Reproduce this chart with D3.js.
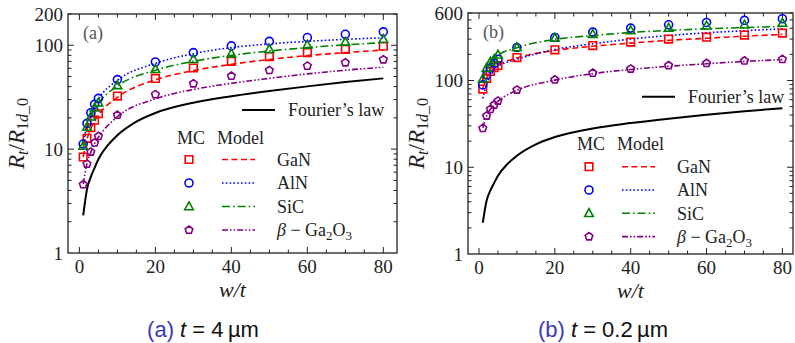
<!DOCTYPE html>
<html><head><meta charset="utf-8">
<script src="https://cdn.jsdelivr.net/npm/d3@7"></script>
<style>body{margin:0;background:#fff}svg{display:block}
.serif{font-family:"Liberation Serif",serif}
.sans{font-family:"Liberation Sans",Arial,sans-serif}
</style>
</head><body>
<svg id="chart" width="795" height="343"></svg>
<script>
// ---------- data ----------
const xVals = [1, 2, 3, 4, 5, 10, 20, 30, 40, 50, 60, 70, 80];
const fourierX = [1, 2, 3, 4, 5, 7.5, 10, 15, 20, 30, 40, 50, 60, 70, 80];
const fourierY = [2.3, 4.1, 5.4, 6.6, 8.0, 10.9, 13.6, 18.4, 22.3, 28, 32.3, 36.3, 40.2, 44.2, 48];

const materials = ["GaN", "AlN", "SiC", "Ga2O3"];

// panel (a) t = 4 um
const ganMcA   = [8.4, 12.7, 16.1, 19.0, 21.9, 32.4, 48, 60.4, 70.1, 77.8, 85, 91.4, 97.8];
const alnMcA   = [11.2, 17.7, 22.4, 27, 30.8, 46.7, 69, 85, 98.6, 109, 118.6, 127.6, 134.6];
const sicMcA   = [10.7, 16.3, 20.5, 25, 28, 41.1, 58.7, 73.3, 83, 91.4, 100.7, 107.7, 114.3];
const gaoMcA   = [4.56, 7.2, 9.4, 11.5, 13.3, 21.3, 33.6, 42.7, 50.6, 57.4, 63.2, 68, 72.7];
const ganModA  = [8.4, 12.5, 15.8, 18.6, 21.3, 31.5, 46.5, 57, 65.5, 73, 79.5, 85, 90];
const alnModA  = [11, 17.5, 22, 26.5, 30.5, 46, 67, 83, 95, 103, 109, 114, 118];
const sicModA  = [10.5, 16, 20.3, 24.5, 27.7, 40.5, 57.5, 70, 80, 88, 95, 101, 106];
const gaoModA  = [4.6, 7.3, 9.3, 11.3, 13, 20.5, 30.5, 37.5, 43, 48, 53, 57.5, 61.5];

// panel (b) t = 0.2 um
const ganMcB   = [79.7, 106, 127, 141, 149, 184, 226, 253, 277, 300, 316, 334, 352];
const alnMcB   = [89, 116, 139, 158, 176, 240, 313, 361, 402, 439, 467, 493, 515];
const sicMcB   = [104, 139, 163, 176, 198, 240, 308, 342, 377, 402, 428, 439, 459];
const gaoMcB   = [28.2, 39.1, 46.7, 52.4, 58.2, 78, 102, 122, 136, 149, 158, 169, 176];
const ganModB  = [82, 106, 125, 140, 150, 182, 222, 248, 270, 290, 307, 324, 340];
const alnModB  = [62, 90, 112, 130, 145, 175, 228, 265, 300, 330, 355, 375, 394];
const sicModB  = [102, 136, 160, 176, 195, 238, 298, 330, 358, 378, 395, 408, 420];
const gaoModB  = [28.5, 39, 46.5, 52, 57.5, 77, 101, 120, 134, 146, 156, 166, 174];

const xTicks = [0, 20, 40, 60, 80];
const yTicksA = [1, 10, 100, 200];
const yTicksB = [1, 10, 100, 600];

// ---------- styles ----------
const colors = {GaN: "#ff0000", AlN: "#0000ff", SiC: "#008000", Ga2O3: "#800080"};
const dashes = {GaN: "6,3.5", AlN: "1.6,2.2", SiC: "8,3,1.6,3", Ga2O3: "6,2,1.6,2,1.6,2"};
const shapes = {GaN: "square", AlN: "circle", SiC: "triangle", Ga2O3: "pentagon"};

function shapePath(s) {
  if (s === "square") return "M-3.8,-3.8H3.8V3.8H-3.8Z";
  if (s === "circle") return "M4,0A4,4 0 1,1 -4,0A4,4 0 1,1 4,0Z";
  if (s === "triangle") return "M0,-4.6L4.3,3.2H-4.3Z";
  let p = "";
  for (let i = 0; i < 5; i++) {
    const a = -Math.PI / 2 + i * 2 * Math.PI / 5;
    p += (i ? "L" : "M") + (4 * Math.cos(a)).toFixed(2) + "," + (4 * Math.sin(a)).toFixed(2);
  }
  return p + "Z";
}

const svg = d3.select("#chart");

function drawPanel(cfg) {
  const {x0, x1, y0, y1, xDomain, yMax, yTicks, mc, model, label, leg, caption} = cfg;
  const x = d3.scaleLinear().domain(xDomain).range([x0, x1]);
  const y = d3.scaleLog().domain([1, yMax]).range([y1, y0]);
  const g = svg.append("g");

  const minorY = [];
  for (let d = 1; d <= yMax; d *= 10) for (let k = 1; k < 10; k++) { const v = d * k; if (v <= yMax && v > 1) minorY.push(v); }
  const axisStroke = "#222";
  const tk = g.append("g").attr("stroke", axisStroke).attr("stroke-width", 1);
  minorY.forEach(v => {
    const major = [1, 10, 100].includes(v);
    const L = major ? 6 : 3.5;
    tk.append("line").attr("x1", x0).attr("x2", x0 + L).attr("y1", y(v)).attr("y2", y(v));
    tk.append("line").attr("x1", x1).attr("x2", x1 - L).attr("y1", y(v)).attr("y2", y(v));
  });
  d3.range(0, 85, 5).forEach(v => {
    if (x(v) > x1) return;
    const L = v % 20 === 0 ? 6 : 3.5;
    tk.append("line").attr("x1", x(v)).attr("x2", x(v)).attr("y1", y1).attr("y2", y1 - L);
    tk.append("line").attr("x1", x(v)).attr("x2", x(v)).attr("y1", y0).attr("y2", y0 + L);
  });

  g.append("rect").attr("x", x0).attr("y", y0).attr("width", x1 - x0).attr("height", y1 - y0)
    .attr("fill", "none").attr("stroke", axisStroke).attr("stroke-width", 1.3);

  g.selectAll(".yl").data(yTicks).enter().append("text").attr("class", "serif")
    .attr("x", x0 - 5).attr("y", d => y(d)).attr("dy", "0.35em").attr("text-anchor", "end")
    .attr("font-size", 19).attr("fill", "#222").text(d => d);
  g.selectAll(".xl").data(xTicks).enter().append("text").attr("class", "serif")
    .attr("x", d => x(d)).attr("y", y1 + 20).attr("text-anchor", "middle")
    .attr("font-size", 19).attr("fill", "#222").text(d => d);

  g.append("text").attr("class", "serif").attr("x", (x0 + x1) / 2).attr("y", y1 + 44).attr("text-anchor", "middle")
    .attr("font-size", 22).attr("font-style", "italic").attr("fill", "#222").text("w/t");
  const yt = g.append("text").attr("class", "serif").attr("transform", `translate(${x0 - 44},${(y0 + y1) / 2}) rotate(-90)`)
    .attr("text-anchor", "middle").attr("font-size", 23).attr("fill", "#222");
  yt.append("tspan").attr("font-style", "italic").text("R");
  yt.append("tspan").attr("font-style", "italic").attr("font-size", 16).attr("dy", 4).text("t");
  yt.append("tspan").attr("dy", -4).text("/");
  yt.append("tspan").attr("font-style", "italic").text("R");
  const sub = yt.append("tspan").attr("font-size", 16).attr("dy", 4);
  sub.append("tspan").text("1");
  sub.append("tspan").attr("font-style", "italic").text("d");
  sub.append("tspan").text("_0");

  g.append("text").attr("class", "serif").attr("x", x0 + 15).attr("y", y0 + 25).attr("font-size", 18)
    .attr("fill", "#555").text(label);

  const line = d3.line().x(d => x(d[0])).y(d => y(d[1])).curve(d3.curveMonotoneX);
  g.append("path").attr("d", line(d3.zip(fourierX, fourierY))).attr("fill", "none")
    .attr("stroke", "#000").attr("stroke-width", 2);

  materials.forEach(m => {
    g.append("path").attr("d", line(d3.zip(xVals, model[m]))).attr("fill", "none")
      .attr("stroke", colors[m]).attr("stroke-width", 1.6).attr("stroke-dasharray", dashes[m]);
  });
  materials.forEach(m => {
    g.selectAll(null).data(d3.zip(xVals, mc[m])).enter().append("path")
      .attr("d", shapePath(shapes[m])).attr("transform", d => `translate(${x(d[0])},${y(d[1])})`)
      .attr("fill", "none").attr("stroke", colors[m]).attr("stroke-width", 1.6);
  });

  const lg = g.append("g").attr("class", "serif").attr("font-size", 18).attr("fill", "#222");
  lg.append("line").attr("x1", leg.fx0).attr("x2", leg.fx0 + 33).attr("y1", leg.fy).attr("y2", leg.fy)
    .attr("stroke", "#000").attr("stroke-width", 2);
  lg.append("text").attr("x", leg.fx0 + 46).attr("y", leg.fy).attr("dy", "0.35em").text("Fourier\u2019s law");
  lg.append("text").attr("x", leg.mx).attr("y", leg.hy).attr("dy", "0.35em").text("MC");
  lg.append("text").attr("x", leg.mx + 40).attr("y", leg.hy).attr("dy", "0.35em").text("Model");
  materials.forEach((m, i) => {
    const yy = leg.ry + i * leg.dy;
    lg.append("path").attr("d", shapePath(shapes[m])).attr("transform", `translate(${leg.mx + 12},${yy})`)
      .attr("fill", "none").attr("stroke", colors[m]).attr("stroke-width", 1.6);
    lg.append("line").attr("x1", leg.mx + 45).attr("x2", leg.mx + 78).attr("y1", yy).attr("y2", yy)
      .attr("stroke", colors[m]).attr("stroke-width", 1.6).attr("stroke-dasharray", dashes[m]);
    const t = lg.append("text").attr("x", leg.mx + 100).attr("y", yy).attr("dy", "0.35em");
    if (m === "Ga2O3") {
      t.append("tspan").attr("font-style", "italic").text("\u03b2");
      t.append("tspan").text(" \u2212 Ga");
      t.append("tspan").attr("font-size", 13).attr("dy", 4).text("2");
      t.append("tspan").attr("dy", -4).text("O");
      t.append("tspan").attr("font-size", 13).attr("dy", 4).text("3");
    } else t.text(m);
  });

  const c = svg.append("text").attr("class", "sans").attr("x", caption.x).attr("y", 337).attr("text-anchor", "middle")
    .attr("font-size", 22).attr("fill", "#111");
  c.append("tspan").attr("fill", "#3838b8").text(caption.tag + " ");
  c.append("tspan").attr("font-style", "italic").text("t");
  c.append("tspan").text(" = " + caption.val + "\u2009\u00b5m");
}

drawPanel({
  x0: 68, x1: 397, y0: 14, y1: 253, xDomain: [-3, 83.6], yMax: 200, yTicks: yTicksA,
  mc: {GaN: ganMcA, AlN: alnMcA, SiC: sicMcA, Ga2O3: gaoMcA},
  model: {GaN: ganModA, AlN: alnModA, SiC: sicModA, Ga2O3: gaoModA},
  label: "(a)",
  leg: {fx0: 242, fy: 110, mx: 177, hy: 138, ry: 159.5, dy: 23.5},
  caption: {x: 203, tag: "(a)", val: "4"}
});
drawPanel({
  x0: 468, x1: 793, y0: 13, y1: 254, xDomain: [-2.9, 82.8], yMax: 600, yTicks: yTicksB,
  mc: {GaN: ganMcB, AlN: alnMcB, SiC: sicMcB, Ga2O3: gaoMcB},
  model: {GaN: ganModB, AlN: alnModB, SiC: sicModB, Ga2O3: gaoModB},
  label: "(b)",
  leg: {fx0: 642, fy: 96.7, mx: 577, hy: 144, ry: 166.7, dy: 23.3},
  caption: {x: 603, tag: "(b)", val: "0.2"}
});
</script>
</body></html>
